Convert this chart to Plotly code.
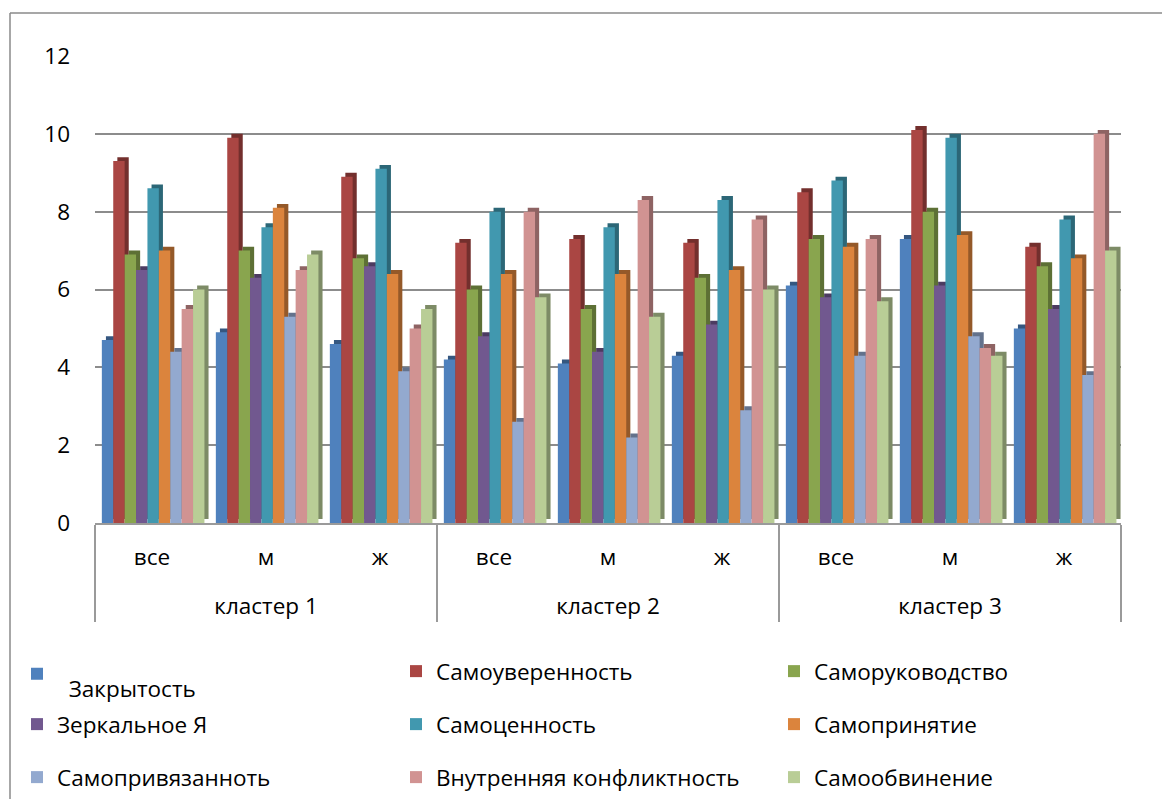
import plotly.graph_objects as go

clusters = ["кластер 1", "кластер 2", "кластер 3"]
groups = ["все", "м", "ж"]

series_names = [
    "Закрытость", "Самоуверенность", "Саморуководство",
    "Зеркальное Я", "Самоценность", "Самопринятие",
    "Самопривязанноть", "Внутренняя конфликтность", "Самообвинение",
]
colors = ["#4F81BD", "#AA4643", "#89A54E", "#71588F", "#4198AF",
          "#DB843D", "#93A9CF", "#D19392", "#B9CD96"]

# values per series, order: кл1(все,м,ж), кл2(все,м,ж), кл3(все,м,ж)
zakrytost       = [4.7, 4.9, 4.6, 4.2, 4.1, 4.3, 6.1, 7.3, 5.0]
samouverennost  = [9.3, 9.9, 8.9, 7.2, 7.3, 7.2, 8.5, 10.1, 7.1]
samorukovodstvo = [6.9, 7.0, 6.8, 6.0, 5.5, 6.3, 7.3, 8.0, 6.6]
zerkalnoe       = [6.5, 6.3, 6.6, 4.8, 4.4, 5.1, 5.8, 6.1, 5.5]
samocennost     = [8.6, 7.6, 9.1, 8.0, 7.6, 8.3, 8.8, 9.9, 7.8]
samoprinyatie   = [7.0, 8.1, 6.4, 6.4, 6.4, 6.5, 7.1, 7.4, 6.8]
samoprivyaz     = [4.4, 5.3, 3.9, 2.6, 2.2, 2.9, 4.3, 4.8, 3.8]
konflikt        = [5.5, 6.5, 5.0, 8.0, 8.3, 7.8, 7.3, 4.5, 10.0]
samoobvinenie   = [6.0, 6.9, 5.5, 5.8, 5.3, 6.0, 5.7, 4.3, 7.0]

series_values = [zakrytost, samouverennost, samorukovodstvo, zerkalnoe,
                 samocennost, samoprinyatie, samoprivyaz, konflikt, samoobvinenie]

y_ticks = [0, 2, 4, 6, 8, 10, 12]

x_outer = ["<br>" + c for c in clusters for _ in groups]
x_inner = [g for _ in clusters for g in groups]

FONT = "Open Sans"
FS = 22.5
W, H = 1170, 799
ML, MR, MT, MB = 87, 57, 48, 284

# bar geometry (category units) and pseudo-3D depth styling
BAR_W = 0.1
START = -0.44
DEPTH_X = 0.036
DEPTH_Y = 0.1

# legend slots (figure px): columns and rows
leg_cols = [9, 388, 766]
leg_rows = [642, 695, 748]


def darken(hex_color, f=0.68):
    h = hex_color.lstrip("#")
    r, g, b = (int(h[i:i + 2], 16) for i in (0, 2, 4))
    return "rgb(%d,%d,%d)" % (r * f, g * f, b * f)


fig = go.Figure()
# depth faces (behind)
for i, (vals, col) in enumerate(zip(series_values, colors)):
    fig.add_trace(go.Bar(
        x=[x_outer, x_inner], y=vals, base=DEPTH_Y,
        width=BAR_W, offset=START + i * BAR_W + DEPTH_X,
        marker=dict(color=darken(col), line=dict(width=0)),
        showlegend=False, hoverinfo="skip",
    ))

layout_legends = {}
for i, (name, vals, col) in enumerate(zip(series_names, series_values, colors)):
    lid = "legend" if i == 0 else "legend%d" % (i + 1)
    label = name
    top = leg_rows[i // 3]
    if i == 0:
        label = "<br>\u00a0\u00a0" + name
        top = 630
    fig.add_trace(go.Bar(
        x=[x_outer, x_inner], y=vals, name=label,
        width=BAR_W, offset=START + i * BAR_W,
        marker=dict(color=col, line=dict(width=0)),
        legend=lid,
    ))
    layout_legends[lid] = dict(
        font=dict(family=FONT, size=FS, color="black"),
        orientation="v", xref="container", yref="container",
        xanchor="left", yanchor="top", bgcolor="rgba(0,0,0,0)",
        itemwidth=30, x=leg_cols[i % 3] / W, y=1 - top / H,
    )

pw = W - ML - MR
ph = H - MT - MB


def px_to_paper_x(px):
    return (px - ML) / pw


def px_to_paper_y(py):
    return (H - MB - py) / ph


fig.update_layout(
    width=W, height=H,
    margin=dict(l=ML, r=MR, t=MT, b=MB, autoexpand=False),
    paper_bgcolor="white", plot_bgcolor="white",
    font=dict(family=FONT, size=FS, color="black"),
    barmode="overlay",
    showlegend=True,
    xaxis=dict(
        type="multicategory", showline=True, linecolor="#9a9a9a", linewidth=2,
        showgrid=False, ticks="", ticklabelstandoff=13,
        tickfont=dict(family=FONT, size=FS, color="black"),
        showdividers=True, dividercolor="#9a9a9a", dividerwidth=2, automargin=False,
    ),
    yaxis=dict(
        range=[0, 12], tickvals=y_ticks, showgrid=True, gridcolor="#8c8c8c",
        gridwidth=2, zeroline=False, showline=False, ticks="", automargin=False,
        tickfont=dict(family=FONT, size=FS, color="black"), ticklabelstandoff=24,
    ),
    shapes=[
        dict(type="line", xref="paper", yref="paper",
             x0=px_to_paper_x(2), x1=px_to_paper_x(1175),
             y0=px_to_paper_y(5), y1=px_to_paper_y(5),
             line=dict(color="#8a8a8a", width=1.5)),
        dict(type="line", xref="paper", yref="paper",
             x0=px_to_paper_x(2), x1=px_to_paper_x(2),
             y0=px_to_paper_y(5), y1=px_to_paper_y(805),
             line=dict(color="#8a8a8a", width=1.5)),
    ],
    **layout_legends,
)

fig.write_html("out.html")
